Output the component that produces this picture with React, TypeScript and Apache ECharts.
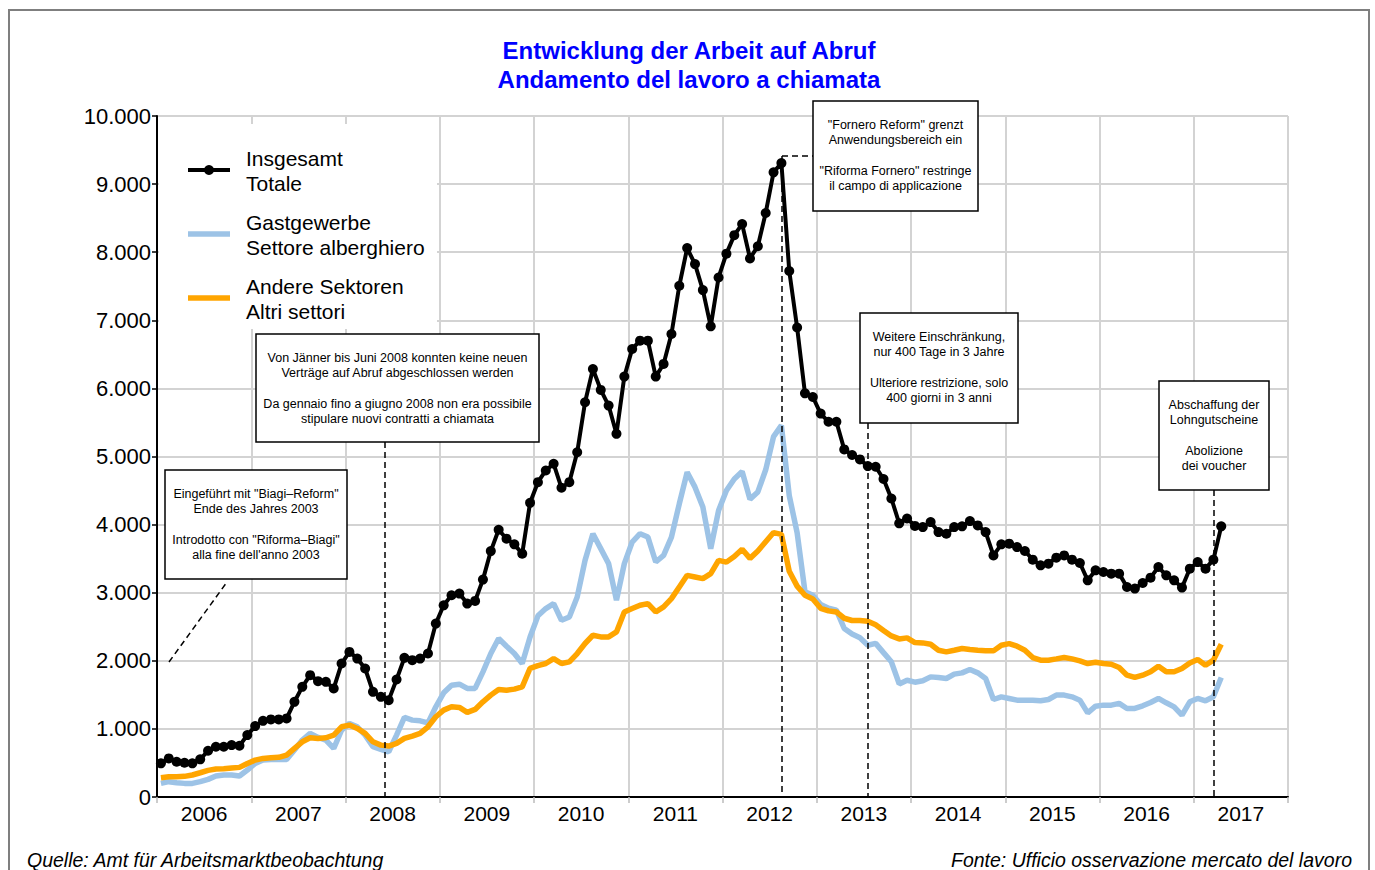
import React, { useEffect, useRef } from "react";
import * as echarts from "echarts";

const YEARS = ["2006", "2007", "2008", "2009", "2010", "2011", "2012", "2013", "2014", "2015", "2016", "2017"];
const MONTH_NUMS = ["01", "02", "03", "04", "05", "06", "07", "08", "09", "10", "11", "12"];
const MONTHS = YEARS.flatMap((y) => MONTH_NUMS.map((m) => `${y}-${m}`));

// Insgesamt / Totale
const TOTAL = [
  494, 567, 518, 503, 494, 553, 679, 738, 738, 762, 752, 909,
  1041, 1119, 1139, 1139, 1154, 1398, 1618, 1789, 1701, 1691, 1594, 1960,
  2131, 2033, 1887, 1544, 1471, 1422, 1726, 2043, 2009, 2033, 2107, 2547,
  2815, 2962, 2987, 2840, 2879, 3192, 3611, 3925, 3793, 3710, 3573, 4320,
  4623, 4795, 4893, 4541, 4623, 5063, 5796, 6285, 5978, 5748, 5333, 6173,
  6579, 6701, 6701, 6173, 6359, 6799, 7507, 8060, 7825, 7444, 6911, 7629,
  7979, 8250, 8413, 7909, 8088, 8576, 9173, 9308, 7724, 6894, 5928, 5874,
  5630, 5510, 5510, 5104, 5022, 4957, 4859, 4849, 4670, 4383, 4019, 4089,
  3981, 3963, 4037, 3890, 3866, 3963, 3974, 4052, 3988, 3890, 3548, 3710,
  3720, 3670, 3612, 3485, 3402, 3426, 3514, 3548, 3485, 3436, 3182, 3328,
  3304, 3280, 3280, 3084, 3060, 3143, 3221, 3377, 3255, 3182, 3075, 3353,
  3450, 3353, 3485, 3974,
];

// Gastgewerbe / Settore alberghiero
const HOSPITALITY = [
  200, 225, 210, 200, 200, 225, 259, 308, 323, 323, 308, 396,
  493, 542, 552, 552, 552, 689, 836, 934, 875, 836, 714, 980,
  1080, 1031, 909, 738, 699, 664, 909, 1168, 1129, 1119, 1089, 1325,
  1530, 1642, 1657, 1594, 1594, 1838, 2107, 2327, 2214, 2107, 1960, 2350,
  2660, 2767, 2840, 2595, 2644, 2937, 3475, 3866, 3647, 3427, 2889, 3427,
  3744, 3866, 3817, 3451, 3548, 3817, 4306, 4770, 4550, 4257, 3647, 4208,
  4500, 4670, 4779, 4371, 4480, 4805, 5293, 5456, 4425, 3883, 3015, 2962,
  2826, 2771, 2745, 2474, 2392, 2337, 2229, 2256, 2120, 1985, 1660, 1714,
  1686, 1706, 1764, 1755, 1740, 1804, 1823, 1872, 1823, 1740, 1432, 1471,
  1447, 1422, 1422, 1422, 1413, 1432, 1496, 1496, 1471, 1422, 1236, 1334,
  1349, 1349, 1374, 1300, 1300, 1339, 1388, 1447, 1383, 1324, 1202, 1398,
  1447, 1413, 1471, 1755,
];

// Andere Sektoren / Altri settori
const OTHER = [
  283, 298, 298, 303, 323, 356, 391, 410, 415, 425, 435, 493,
  542, 567, 577, 582, 616, 714, 811, 870, 860, 870, 909, 1031,
  1056, 1007, 934, 811, 762, 748, 787, 860, 894, 934, 1031, 1178,
  1276, 1325, 1315, 1242, 1286, 1398, 1496, 1579, 1569, 1584, 1618, 1890,
  1930, 1960, 2033, 1960, 1984, 2107, 2254, 2375, 2351, 2351, 2424, 2717,
  2767, 2815, 2840, 2717, 2791, 2913, 3084, 3255, 3231, 3207, 3280, 3475,
  3449, 3531, 3639, 3504, 3612, 3748, 3883, 3856, 3314, 3097, 2962, 2908,
  2771, 2733, 2717, 2625, 2592, 2592, 2581, 2528, 2446, 2365, 2321, 2337,
  2267, 2263, 2243, 2155, 2131, 2155, 2180, 2165, 2155, 2146, 2146, 2229,
  2253, 2214, 2155, 2048, 2009, 2009, 2028, 2048, 2028, 1999, 1960, 1979,
  1960, 1950, 1902, 1789, 1755, 1789, 1838, 1921, 1838, 1838, 1887, 1969,
  2019, 1935, 2009, 2243,
];

const TITLE_DE = "Entwicklung der Arbeit auf Abruf";
const TITLE_IT = "Andamento del lavoro a chiamata";
const SOURCE_DE = "Quelle: Amt für Arbeitsmarktbeobachtung";
const SOURCE_IT = "Fonte: Ufficio osservazione mercato del lavoro";

const LEGEND = [
  { l1: "Insgesamt", l2: "Totale", color: "#000000", dot: true },
  { l1: "Gastgewerbe", l2: "Settore alberghiero", color: "#9DC3E6", dot: false },
  { l1: "Andere Sektoren", l2: "Altri settori", color: "#FFA500", dot: false },
];

const NOTES = [
  {
    text: 'Eingeführt mit "Biagi–Reform"\nEnde des Jahres 2003\n\nIntrodotto con "Riforma–Biagi"\nalla fine dell\'anno 2003',
    box: [165, 470, 182, 109],
  },
  {
    text: "Von Jänner bis Juni 2008 konnten keine neuen\nVerträge auf Abruf abgeschlossen werden\n\nDa gennaio fino a giugno 2008 non era possibile\nstipulare nuovi contratti a chiamata",
    box: [256, 334, 283, 108],
  },
  {
    text: '"Fornero Reform" grenzt\nAnwendungsbereich ein\n\n"Riforma Fornero" restringe\nil campo di applicazione',
    box: [813, 101, 165, 110],
  },
  {
    text: "Weitere Einschränkung,\nnur 400 Tage in 3 Jahre\n\nUlteriore restrizione, solo\n400 giorni in 3 anni",
    box: [860, 313, 158, 110],
  },
  {
    text: "Abschaffung der\nLohngutscheine\n\nAbolizione\ndei voucher",
    box: [1159, 381, 110, 109],
  },
];

const FONT = "'Liberation Sans', Arial, sans-serif";

function fmt(v: number): string {
  if (v >= 1000) {
    const t = Math.floor(v / 1000);
    const r = String(v % 1000).padStart(3, "0");
    return `${t}.${r}`;
  }
  return String(v);
}

export default function App() {
  const ref = useRef<HTMLDivElement>(null);
  useEffect(() => {
    const chart = echarts.init(ref.current!, null, { renderer: "svg" });
    const dash = { stroke: "#000", lineWidth: 1.5, lineDash: [6, 4] };
    const graphics: any[] = [];
    // outer frame
    graphics.push({
      type: "rect",
      shape: { x: 9, y: 10, width: 1360, height: 900 },
      style: { fill: "none", stroke: "#7f7f7f", lineWidth: 2 },
      z: 1,
    });
    // titles
    graphics.push({
      type: "text",
      style: { text: TITLE_DE, x: 689, y: 50, textAlign: "center", textVerticalAlign: "middle", font: `bold 24px ${FONT}`, fill: "#0000ff" },
      z: 10,
    });
    graphics.push({
      type: "text",
      style: { text: TITLE_IT, x: 689, y: 79, textAlign: "center", textVerticalAlign: "middle", font: `bold 24px ${FONT}`, fill: "#0000ff" },
      z: 10,
    });
    // legend background
    graphics.push({
      type: "rect",
      shape: { x: 159, y: 124, width: 278, height: 205 },
      style: { fill: "#fff" },
      z: 5,
    });
    LEGEND.forEach((it, k) => {
      const yc = 170 + k * 64;
      graphics.push({
        type: "line",
        shape: { x1: 188, y1: yc, x2: 230, y2: yc },
        style: { stroke: it.color, lineWidth: it.dot ? 4 : 5.5 },
        z: 6,
      });
      if (it.dot) {
        graphics.push({ type: "circle", shape: { cx: 209, cy: yc, r: 5 }, style: { fill: "#000" }, z: 7 });
      }
      graphics.push({
        type: "text",
        style: { text: it.l1, x: 246, y: yc - 11.5, textVerticalAlign: "middle", font: `21px ${FONT}`, fill: "#000" },
        z: 7,
      });
      graphics.push({
        type: "text",
        style: { text: it.l2, x: 246, y: yc + 13, textVerticalAlign: "middle", font: `21px ${FONT}`, fill: "#000" },
        z: 7,
      });
    });
    // annotation dashed connectors
    graphics.push({ type: "line", shape: { x1: 169, y1: 662, x2: 227, y2: 582 }, style: dash, z: 6 });
    graphics.push({ type: "line", shape: { x1: 385, y1: 442, x2: 385, y2: 797 }, style: dash, z: 6 });
    graphics.push({ type: "line", shape: { x1: 782, y1: 156, x2: 813, y2: 156 }, style: dash, z: 6 });
    graphics.push({ type: "line", shape: { x1: 782, y1: 156, x2: 782, y2: 797 }, style: dash, z: 6 });
    graphics.push({ type: "line", shape: { x1: 868, y1: 423, x2: 868, y2: 797 }, style: dash, z: 6 });
    graphics.push({ type: "line", shape: { x1: 1214, y1: 490, x2: 1214, y2: 797 }, style: dash, z: 6 });
    // annotation boxes
    NOTES.forEach((n) => {
      const [x, y, w, h] = n.box;
      graphics.push({
        type: "rect",
        shape: { x, y, width: w, height: h },
        style: { fill: "#fff", stroke: "#000", lineWidth: 1.5 },
        z: 8,
      });
      graphics.push({
        type: "text",
        style: {
          text: n.text,
          x: x + w / 2,
          y: y + 16.5,
          textAlign: "center",
          textVerticalAlign: "top",
          font: `12.5px ${FONT}`,
          lineHeight: 15.3,
          fill: "#000",
        },
        z: 9,
      });
    });
    // sources
    graphics.push({
      type: "text",
      style: { text: SOURCE_DE, x: 27, y: 860, textVerticalAlign: "middle", font: `italic 19.5px ${FONT}`, fill: "#000" },
      z: 10,
    });
    graphics.push({
      type: "text",
      style: { text: SOURCE_IT, x: 1352, y: 860, textAlign: "right", textVerticalAlign: "middle", font: `italic 19.5px ${FONT}`, fill: "#000" },
      z: 10,
    });

    chart.setOption({
      animation: false,
      backgroundColor: "#fff",
      grid: { left: 157, right: 87, top: 116, bottom: 73, containLabel: false },
      xAxis: [
        {
          type: "category",
          data: MONTHS,
          position: "top",
          boundaryGap: true,
          show: false,
        },
        {
          type: "category",
          data: YEARS,
          position: "bottom",
          boundaryGap: true,
          axisLine: { show: true, lineStyle: { color: "#000", width: 2 } },
          axisTick: { show: true, length: 6, lineStyle: { color: "#bbb", width: 1.5 } },
          axisLabel: { color: "#000", fontSize: 21, fontFamily: FONT, margin: 6 },
          splitLine: { show: true, lineStyle: { color: "#d3d3d3", width: 2 } },
        },
      ],
      yAxis: {
        type: "value",
        min: 0,
        max: 10000,
        interval: 1000,
        axisLine: { show: true, lineStyle: { color: "#000", width: 2 } },
        axisTick: { show: true, length: 5, lineStyle: { color: "#000", width: 1.5 } },
        axisLabel: { color: "#000", fontSize: 22, fontFamily: FONT, margin: 6, formatter: (v: number) => fmt(v) },
        splitLine: { show: true, lineStyle: { color: "#d3d3d3", width: 2 } },
      },
      series: [
        {
          name: "Gastgewerbe",
          type: "line",
          xAxisIndex: 0,
          data: HOSPITALITY,
          showSymbol: false,
          lineStyle: { color: "#9DC3E6", width: 5.5 },
          itemStyle: { color: "#9DC3E6" },
          z: 3,
        },
        {
          name: "Andere Sektoren",
          type: "line",
          xAxisIndex: 0,
          data: OTHER,
          showSymbol: false,
          lineStyle: { color: "#FFA500", width: 5.5 },
          itemStyle: { color: "#FFA500" },
          z: 4,
        },
        {
          name: "Insgesamt",
          type: "line",
          xAxisIndex: 0,
          data: TOTAL,
          symbol: "circle",
          symbolSize: 10,
          showAllSymbol: true,
          lineStyle: { color: "#000", width: 4 },
          itemStyle: { color: "#000" },
          z: 5,
        },
      ],
      graphic: graphics,
    });
    return () => chart.dispose();
  }, []);
  return (
    <div
      ref={ref}
      style={{ position: "fixed", left: 0, top: 0, width: 1375, height: 870, background: "#fff" }}
    />
  );
}
